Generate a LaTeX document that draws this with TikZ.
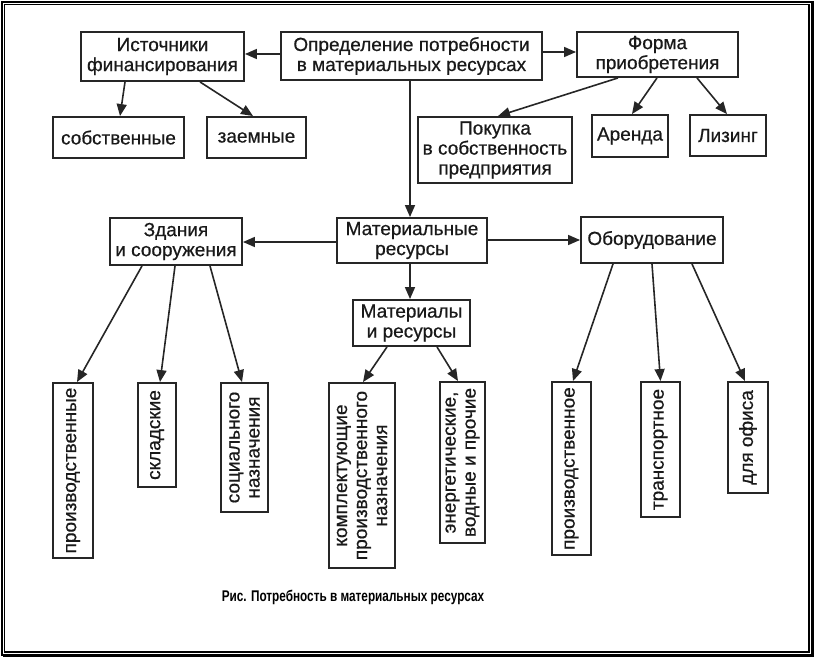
\documentclass[tikz,border=0pt]{standalone}
\usepackage{fontspec}
\setmainfont{Liberation Sans}
\newfontfamily\boxfont{Liberation Sans}[FakeBold=0.6]
\usepackage{graphicx}
\usetikzlibrary{arrows.meta}
\begin{document}
\begin{tikzpicture}[x=1pt,y=-1pt,
  box/.style={draw=black!85, line width=1.9pt, inner sep=1pt, align=center,
    font=\boxfont\fontsize{19}{20}\selectfont, text=black!90},
  arr/.style={draw=black!85, line width=1.6pt, -{Triangle[length=12pt,width=10pt]}},
]
\useasboundingbox (0,0) rectangle (814,658);
% frame
\draw[line width=2.2pt] (2,2) rectangle (812.4,655.2);
\draw[line width=1.3pt] (4.7,4.7) rectangle (809,652);
\draw[line width=1.5pt] (3,656.3) -- (813.4,656.3) -- (813.4,3);

% top row
\node[box, minimum width=163pt, minimum height=49pt] (ist) at (162.5,56.5) {Источники\\финансирования};
\node[box, minimum width=261pt, minimum height=48pt] (opr) at (411.5,56) {Определение потребности\\в материальных ресурсах};
\node[box, minimum width=161pt, minimum height=45pt] (form) at (657.5,54.5) {Форма\\приобретения};

% second row
\node[box, minimum width=131pt, minimum height=41pt] (sob) at (118.5,137.5) {собственные};
\node[box, minimum width=99pt, minimum height=41pt] (zaem) at (256.5,137.5) {заемные};
\node[box, minimum width=154pt, minimum height=66pt] (pok) at (495,150) {Покупка\\в собственность\\предприятия};
\node[box, minimum width=76pt, minimum height=42pt] (aren) at (630,136) {Аренда};
\node[box, minimum width=76pt, minimum height=41pt] (liz) at (728,135.5) {Лизинг};

% middle row
\node[box, minimum width=132pt, minimum height=47pt] (zdan) at (176,241.5) {Здания\\и сооружения};
\node[box, minimum width=150pt, minimum height=45pt] (mat) at (412,240.5) {Материальные\\ресурсы};
\node[box, minimum width=142pt, minimum height=46pt] (obor) at (652,240) {Оборудование};
\node[box, minimum width=117pt, minimum height=46pt] (matres) at (411.5,323) {Материалы\\и ресурсы};

% vertical boxes
\node[box, rotate=90, minimum width=175pt, minimum height=40pt] (v1) at (73,470.5) {производственные};
\node[box, rotate=90, minimum width=104pt, minimum height=38pt] (v2) at (157,435) {складские};
\node[box, rotate=90, minimum width=129pt, minimum height=47pt] (v3) at (244.5,447.5) {социального\\назначения};
\node[box, rotate=90, minimum width=185pt, minimum height=66pt] (v4) at (362,475.5) {комплектующие\\производственного\\назначения};
\node[box, rotate=90, minimum width=161pt, minimum height=45pt] (v5) at (462.5,462.5) {энергетические,\\водные и прочие};
\node[box, rotate=90, minimum width=173pt, minimum height=39pt] (v6) at (571.5,468.5) {производственное};
\node[box, rotate=90, minimum width=135pt, minimum height=39pt] (v7) at (660.5,449.5) {транспортное};
\node[box, rotate=90, minimum width=111pt, minimum height=40pt] (v8) at (748,437.5) {для офиса};

% caption
\node (cap) at (353,597) {\scalebox{0.76}[1]{\fontsize{15.5}{17}\selectfont\bfseries Рис. Потребность в материальных ресурсах}};

% connectors
\draw[arr] ([yshift=2pt]opr.west) -- ([yshift=2pt]opr.west -| ist.east);
\draw[arr] ([yshift=4pt]opr.east) -- ([yshift=4pt]opr.east -| form.west);
\draw[arr] ([xshift=-1.5pt]opr.south) -- ([xshift=-1.5pt]opr.south |- mat.north);
\draw[arr] ([xshift=-37.5pt]ist.south) -- ([xshift=1.5pt]sob.north);
\draw[arr] ([xshift=37.5pt]ist.south) -- ([xshift=-3.5pt]zaem.north);
\draw[arr] ([xshift=-39.5pt]form.south) -- ([xshift=3pt]pok.north);
\draw[arr] ([xshift=-0.5pt]form.south) -- ([xshift=2pt]aren.north);
\draw[arr] ([xshift=39.5pt]form.south) -- ([xshift=-1pt]liz.north);
\draw[arr] ([yshift=-1.5pt]mat.west) -- ([yshift=-1.5pt]mat.west -| zdan.east);
\draw[arr] ([yshift=0.5pt]mat.east) -- ([yshift=0.5pt]mat.east -| obor.west);
\draw[arr] ([xshift=-2pt]mat.south) -- ([xshift=-2pt]mat.south |- matres.north);
\draw[arr] ([xshift=-34pt]zdan.south) -- ([xshift=4pt]v1.east);
\draw[arr] ([xshift=-1pt]zdan.south) -- ([xshift=3pt]v2.east);
\draw[arr] ([xshift=34pt]zdan.south) -- ([xshift=-2.5pt]v3.east);
\draw[arr] ([xshift=-24.5pt]matres.south) -- ([xshift=1pt]v4.east);
\draw[arr] ([xshift=25.5pt]matres.south) -- ([xshift=-4.5pt]v5.east);
\draw[arr] ([xshift=-39pt]obor.south) -- ([xshift=1.5pt]v6.east);
\draw[arr] (obor.south) -- (v7.east);
\draw[arr] ([xshift=40pt]obor.south) -- ([xshift=-3pt]v8.east);
\end{tikzpicture}
\end{document}
